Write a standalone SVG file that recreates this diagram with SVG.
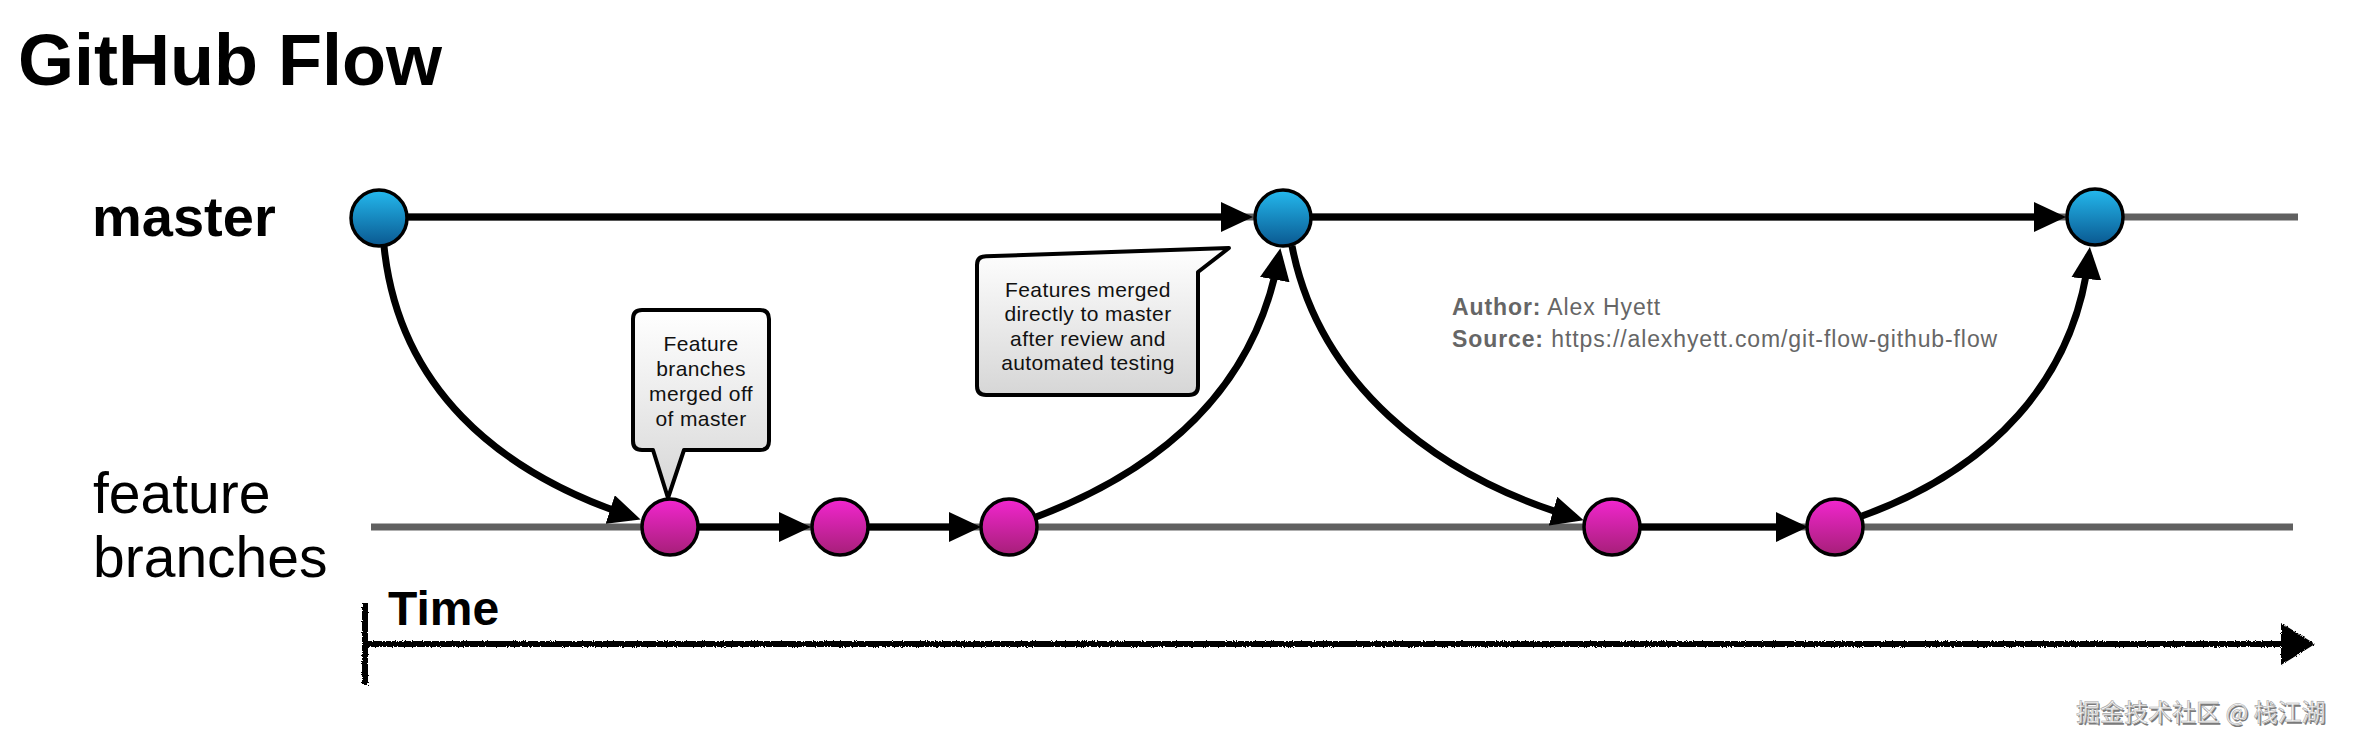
<svg xmlns="http://www.w3.org/2000/svg" width="2358" height="748" viewBox="0 0 2358 748">
  <style>
    .title { font-family: "Liberation Sans", Arial, sans-serif; font-weight: bold; fill: #000; }
    .lane { font-family: "Liberation Sans", Arial, sans-serif; fill: #000; }
    .note { font-family: "Liberation Sans", Arial, sans-serif; font-size: 21px; fill: #111; text-anchor: middle; letter-spacing: 0.4px; }
    .credit { font-family: "Liberation Sans", Arial, sans-serif; font-size: 23px; fill: #666; letter-spacing: 0.9px; }
    .base { stroke: #606060; stroke-width: 7; fill: none; }
    .edge { stroke: #000; stroke-width: 7; fill: none; marker-end: url(#arrow); }
    .blue { fill: url(#gBlue); stroke: #000; stroke-width: 3.5; }
    .pink { fill: url(#gPink); stroke: #000; stroke-width: 3.5; }
    .bubble { fill: url(#gBubble); stroke: #000; stroke-width: 4; stroke-linejoin: round; }
    .wm { font-family: "Noto Sans CJK SC", "Liberation Sans", sans-serif; font-size: 24px; }
  </style>
  <defs>
    <linearGradient id="gBlue" x1="0" y1="0" x2="0" y2="1">
      <stop offset="0" stop-color="#24b9ee"/>
      <stop offset="1" stop-color="#0a5890"/>
    </linearGradient>
    <linearGradient id="gPink" x1="0" y1="0" x2="0" y2="1">
      <stop offset="0" stop-color="#f226cf"/>
      <stop offset="1" stop-color="#a61f78"/>
    </linearGradient>
    <linearGradient id="gBubble" x1="0" y1="0" x2="0" y2="1">
      <stop offset="0" stop-color="#ffffff"/>
      <stop offset="1" stop-color="#d6d6d6"/>
    </linearGradient>
    <marker id="arrow" markerUnits="userSpaceOnUse" markerWidth="32" markerHeight="30" refX="24" refY="15" orient="auto">
      <path d="M0,0 L32,15 L0,30 Z" fill="#000"/>
    </marker>
    <filter id="rough" x="-2%" y="-50%" width="104%" height="200%">
      <feTurbulence type="fractalNoise" baseFrequency="0.9" numOctaves="2" seed="3" result="n"/>
      <feDisplacementMap in="SourceGraphic" in2="n" scale="3.5" xChannelSelector="R" yChannelSelector="G"/>
    </filter>
  </defs>

  <rect width="2358" height="748" fill="#fff"/>

  <text class="title" x="18" y="85" font-size="72">GitHub Flow</text>
  <text class="lane" x="92" y="236" font-size="56" font-weight="bold">master</text>
  <text class="lane" x="93" y="513" font-size="57">feature</text>
  <text class="lane" x="93" y="577" font-size="57">branches</text>

  <g id="connectors">
    <line class="base" x1="379" y1="217" x2="2298" y2="217"/>
    <line class="base" x1="371" y1="527" x2="2293" y2="527"/>
    <line class="edge" x1="407" y1="217" x2="1245" y2="217"/>
    <line class="edge" x1="1311" y1="217" x2="2058" y2="217"/>
    <line class="edge" x1="698" y1="527" x2="803" y2="527"/>
    <line class="edge" x1="868" y1="527" x2="973" y2="527"/>
    <line class="edge" x1="1640" y1="527" x2="1800" y2="527"/>
    <path class="edge" d="M384 246 C398 385, 495 472, 633 517"/>
    <path class="edge" d="M1036 517 C1160 470, 1255 390, 1279 256"/>
    <path class="edge" d="M1292 246 C1318 380, 1430 475, 1576 518"/>
    <path class="edge" d="M1862 516 C1990 470, 2075 380, 2089 255"/>
  </g>

  <g id="time-axis" filter="url(#rough)">
    <line x1="365" y1="603" x2="365" y2="685" stroke="#000" stroke-width="6"/>
    <line x1="365" y1="644" x2="2290" y2="644" stroke="#000" stroke-width="6"/>
    <path d="M2281 623 L2315 644 L2281 665 Z" fill="#000"/>
  </g>
  <text class="title" x="388" y="625" font-size="48">Time</text>

  <g id="node-m1"><circle class="blue" cx="379" cy="218" r="28"/></g>
  <g id="node-m2"><circle class="blue" cx="1283" cy="218" r="28"/></g>
  <g id="node-m3"><circle class="blue" cx="2095" cy="217" r="28"/></g>
  <g id="node-f1"><circle class="pink" cx="670" cy="527" r="28"/></g>
  <g id="node-f2"><circle class="pink" cx="840" cy="527" r="28"/></g>
  <g id="node-f3"><circle class="pink" cx="1009" cy="527" r="28"/></g>
  <g id="node-f4"><circle class="pink" cx="1612" cy="527" r="28"/></g>
  <g id="node-f5"><circle class="pink" cx="1835" cy="527" r="28"/></g>

  <g id="callout-branch">
    <path class="bubble" d="M642 310 H760 Q769 310 769 319 V441 Q769 450 760 450 H684 L668 498 L653 450 H642 Q633 450 633 441 V319 Q633 310 642 310 Z"/>
    <text class="note" x="701" y="351">Feature</text>
    <text class="note" x="701" y="376">branches</text>
    <text class="note" x="701" y="401">merged off</text>
    <text class="note" x="701" y="426">of master</text>
  </g>

  <g id="callout-merge">
    <path class="bubble" d="M977 265 Q977 256.5 986 256.3 L1229 248 L1198 272 V386 Q1198 395 1189 395 H986 Q977 395 977 386 Z"/>
    <text class="note" x="1088" y="297">Features merged</text>
    <text class="note" x="1088" y="321">directly to master</text>
    <text class="note" x="1088" y="345.5">after review and</text>
    <text class="note" x="1088" y="370">automated testing</text>
  </g>

  <g id="credits">
    <text class="credit" x="1452" y="315"><tspan font-weight="bold">Author:</tspan> Alex Hyett</text>
    <text class="credit" x="1452" y="346.5"><tspan font-weight="bold">Source:</tspan> https://alexhyett.com/git-flow-github-flow</text>
  </g>

  <g id="watermark">
    <text class="wm" x="2077.5" y="722.5" fill="#7a7a7a">掘金技术社区 @ 栈江湖</text>
    <text class="wm" x="2076" y="721" fill="#f6f6f6" stroke="#a8a8a8" stroke-width="0.6">掘金技术社区 @ 栈江湖</text>
  </g>
</svg>
